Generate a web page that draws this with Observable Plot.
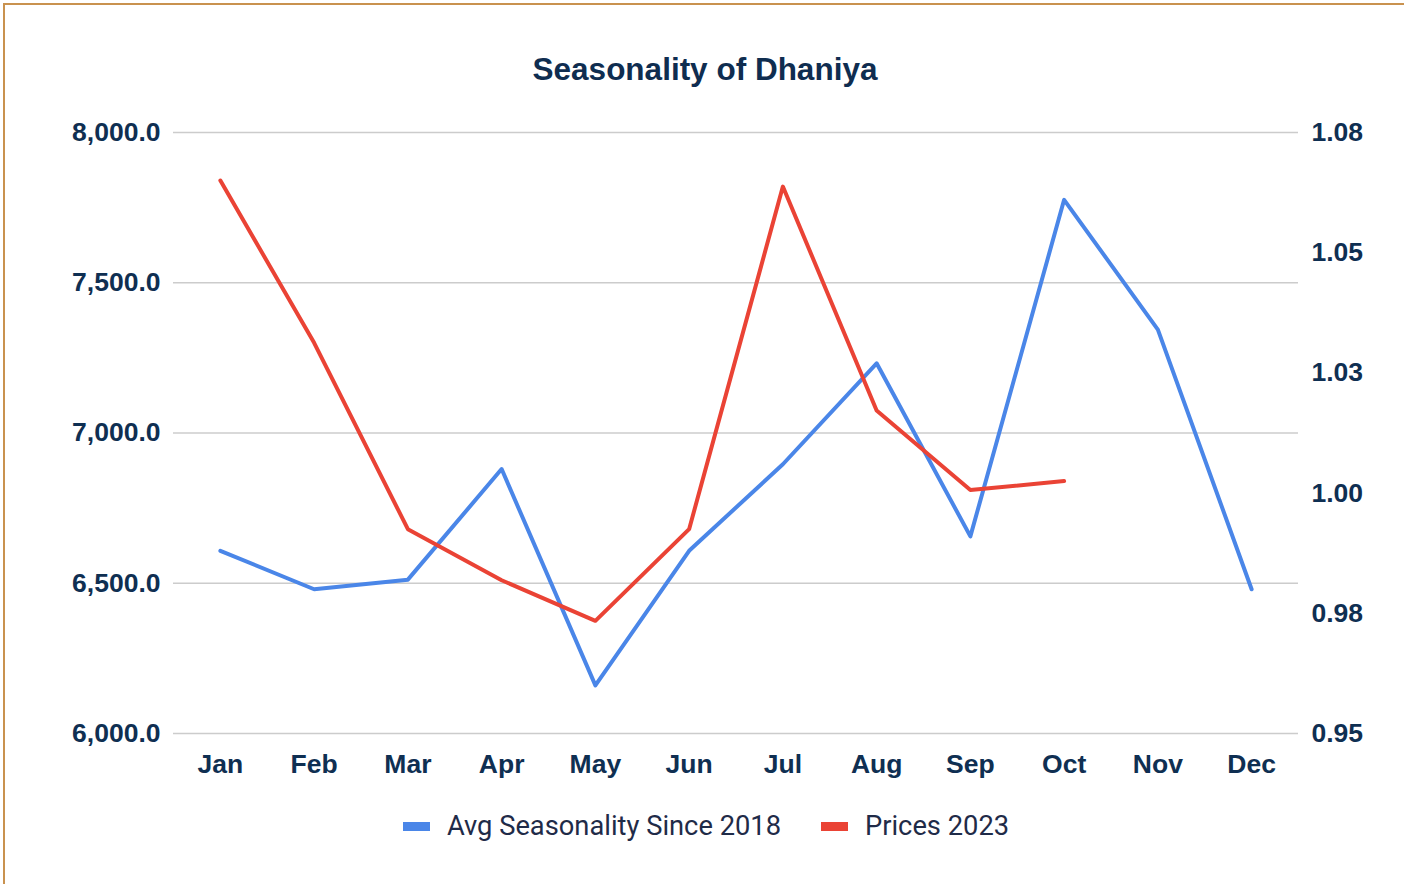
<!DOCTYPE html>
<html>
<head>
<meta charset="utf-8">
<script src="https://cdn.jsdelivr.net/npm/d3@7"></script>
<script src="https://cdn.jsdelivr.net/npm/@observablehq/plot@0.6"></script>
<style>
  html, body { margin: 0; padding: 0; background: #fff; overflow: hidden; }
  #wrap { position: relative; width: 1404px; height: 884px; overflow: hidden; }
  #frame { position: absolute; left: 3px; top: 3px; width: 1440px; height: 920px; border: 2px solid #c9924f; pointer-events: none; box-sizing: border-box; }
  #title { height: 100px; box-sizing: border-box; padding-top: 54px; padding-left: 6px; line-height: 30px; text-align: center;
           font-family: "Liberation Sans", Arial, sans-serif; font-weight: bold; font-size: 31.5px; color: #0f2d50; }
  #legend { height: 52px; box-sizing: border-box; padding-left: 8px; display: flex; justify-content: center; align-items: center;
            font-family: Roboto, "Liberation Sans", Arial, sans-serif; font-size: 27.3px; color: #1f2b48; }
  .item { display: flex; align-items: center; }
  .sw { width: 27px; height: 9px; margin-right: 17px; }
  .gap { width: 40px; }
  svg { display: block; }
</style>
</head>
<body>
<div id="wrap">
  <div id="title">Seasonality of Dhaniya</div>
  <div id="chart"></div>
  <div id="legend"></div>
  <div id="frame"></div>
</div>
<script>
const months = ["Jan","Feb","Mar","Apr","May","Jun","Jul","Aug","Sep","Oct","Nov","Dec"];
const avgSeasonality = [0.988, 0.980, 0.982, 1.005, 0.960, 0.988, 1.006, 1.027, 0.991, 1.061, 1.034, 0.980];
const prices2023 = [7840, 7300, 6680, 6510, 6375, 6680, 7820, 7075, 6810, 6840];
const leftTicks = [6000, 6500, 7000, 7500, 8000];
const leftTickLabels = ["6,000.0", "6,500.0", "7,000.0", "7,500.0", "8,000.0"];
const rightTicks = [0.95, 0.975, 1.0, 1.025, 1.05, 1.075];
const rightTickLabels = ["0.95", "0.98", "1.00", "1.03", "1.05", "1.08"];
const seriesNames = ["Avg Seasonality Since 2018", "Prices 2023"];
const seriesColors = ["#4a86e8", "#ea4335"];

const leftDomain = [6000, 8000];
const rightDomain = [0.95, 1.075];
const toLeft = v => leftDomain[0] + (v - rightDomain[0]) / (rightDomain[1] - rightDomain[0]) * (leftDomain[1] - leftDomain[0]);

const blueData = avgSeasonality.map((v, i) => ({month: months[i], pos: toLeft(v)}));
const redData = prices2023.map((v, i) => ({month: months[i], value: v}));
const rightPos = rightTicks.map(toLeft);
const leftMap = new Map(leftTicks.map((t, i) => [t, leftTickLabels[i]]));
const rightMap = new Map(rightPos.map((t, i) => [t, rightTickLabels[i]]));

const txt = "#0f2f52";
const fs = 26.5;
const chart = Plot.plot({
  width: 1404, height: 700,
  marginTop: 32, marginBottom: 67, marginLeft: 173, marginRight: 106,
  style: {fontFamily: "'Liberation Sans', Arial, sans-serif", background: "transparent", color: txt, overflow: "visible"},
  x: {type: "point", domain: months, padding: 0.5, round: false},
  y: {domain: leftDomain},
  marks: [
    Plot.ruleY(leftTicks, {stroke: "#cccccc", strokeWidth: 1.5}),
    Plot.axisY(leftTicks, {anchor: "left", tickSize: 0, tickPadding: 13, label: null,
      tickFormat: d => leftMap.get(d), fontSize: fs, fontWeight: "bold", fill: txt}),
    Plot.axisY(rightPos, {anchor: "right", tickSize: 0, tickPadding: 13, label: null,
      tickFormat: d => rightMap.get(d), fontSize: fs, fontWeight: "bold", fill: txt}),
    Plot.axisX({tickSize: 0, tickPadding: 21, label: null, fontSize: fs, fontWeight: "bold", fill: txt}),
    Plot.lineY(blueData, {x: "month", y: "pos", stroke: seriesColors[0], strokeWidth: 4}),
    Plot.lineY(redData, {x: "month", y: "value", stroke: seriesColors[1], strokeWidth: 4})
  ]
});
document.getElementById("chart").appendChild(chart);

const legend = document.getElementById("legend");
seriesNames.forEach((name, i) => {
  if (i > 0) { const g = document.createElement("div"); g.className = "gap"; legend.appendChild(g); }
  const item = document.createElement("div"); item.className = "item";
  const sw = document.createElement("div"); sw.className = "sw"; sw.style.background = seriesColors[i];
  const label = document.createElement("span"); label.textContent = name;
  item.appendChild(sw); item.appendChild(label); legend.appendChild(item);
});
</script>
</body>
</html>
